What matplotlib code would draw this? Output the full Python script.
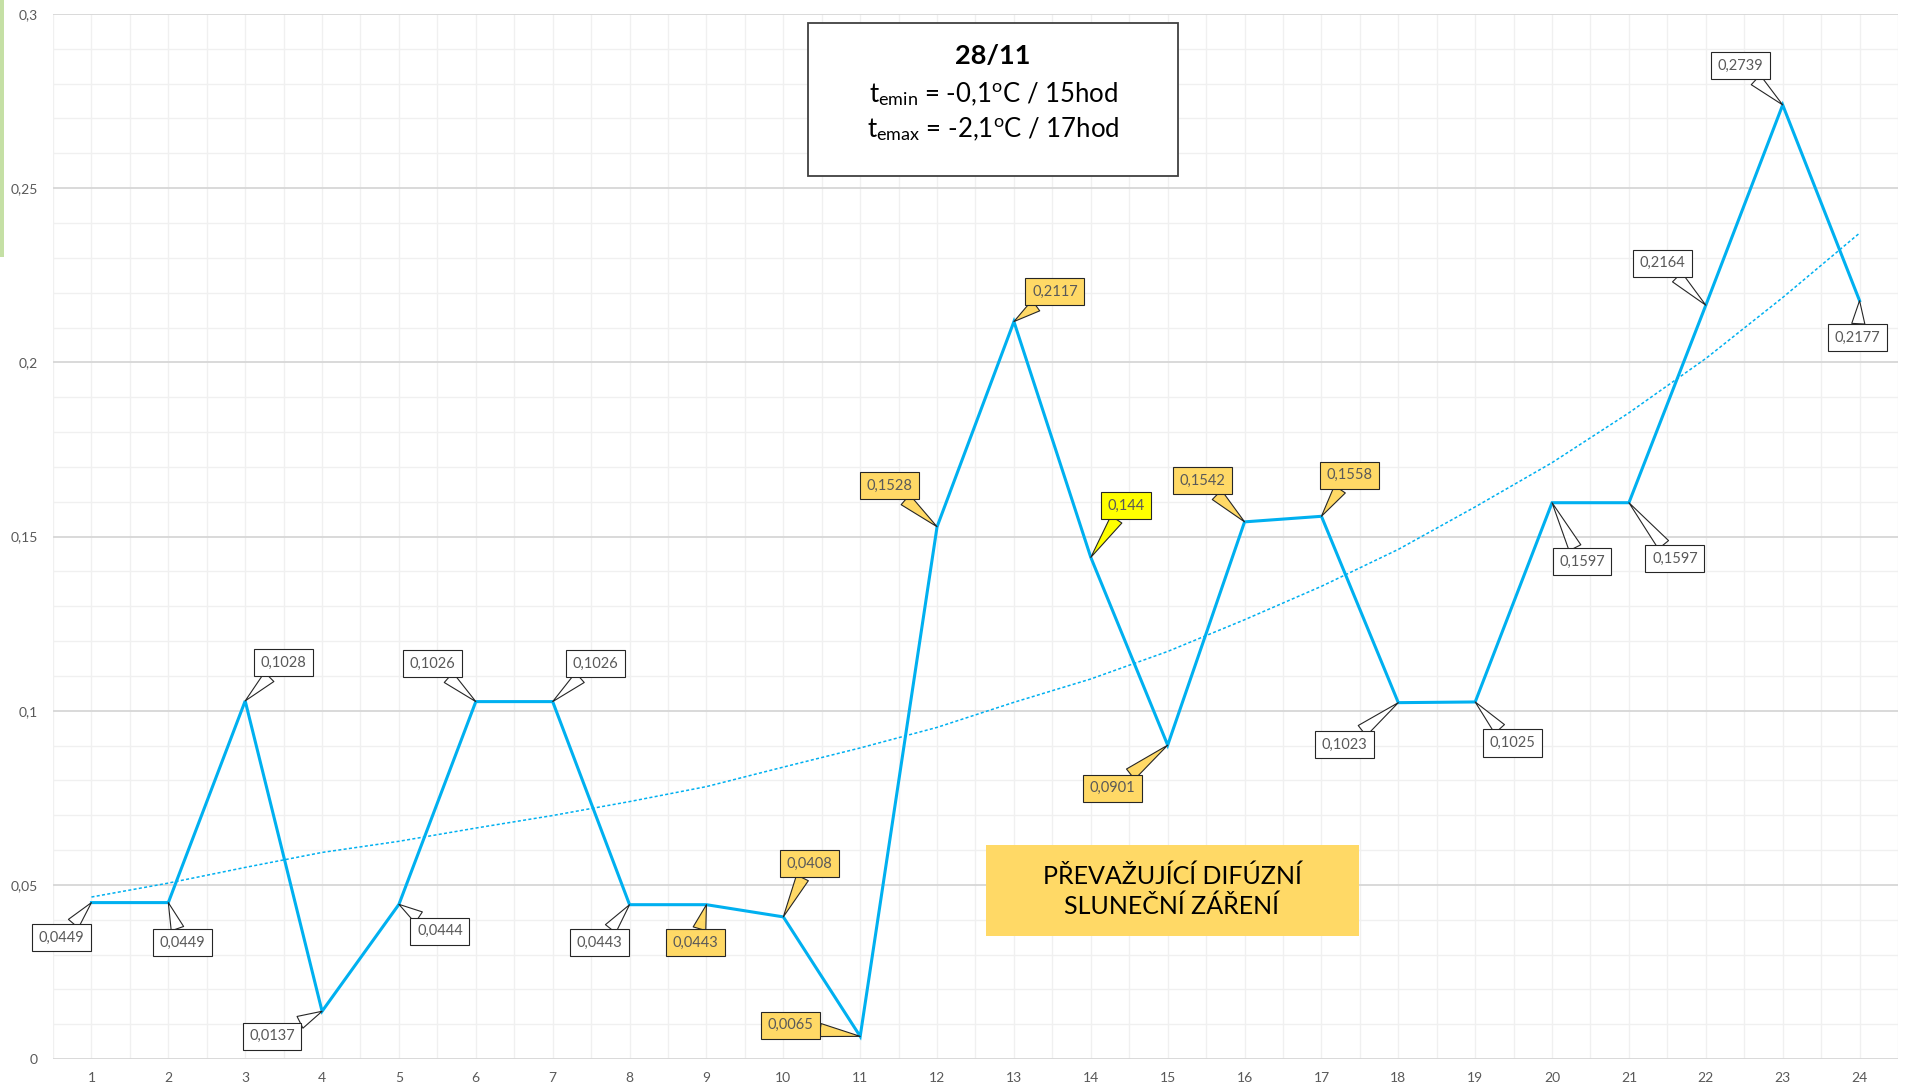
import numpy as np
import matplotlib.pyplot as plt
from matplotlib.patches import Rectangle

plt.rcParams['font.family'] = ['Lato', 'DejaVu Sans']
plt.rcParams['mathtext.fontset'] = 'custom'
plt.rcParams['mathtext.rm'] = 'Lato'
plt.rcParams['mathtext.it'] = 'Lato:italic'

##########################################################################
# data (hours 1..24)
hours = np.arange(1, 25)
values = [0.0449, 0.0449, 0.1028, 0.0137, 0.0444, 0.1026, 0.1026, 0.0443,
          0.0443, 0.0408, 0.0065, 0.1528, 0.2117, 0.144, 0.0901, 0.1542,
          0.1558, 0.1023, 0.1025, 0.1597, 0.1597, 0.2164, 0.2739, 0.2177]
# dotted trend line, read at each hour
trend = [0.0465, 0.0505, 0.0550, 0.0593, 0.0625, 0.0663, 0.0699, 0.0739,
         0.0782, 0.0838, 0.0893, 0.0952, 0.1024, 0.1091, 0.1170, 0.1261,
         0.1357, 0.1463, 0.1585, 0.1712, 0.1855, 0.2011, 0.2186, 0.2371]
ytick_vals = [0, 0.05, 0.1, 0.15, 0.2, 0.25, 0.3]
ytick_labels = ['0', '0,05', '0,1', '0,15', '0,2', '0,25', '0,3']

# callout colour per hour: w = white, g = gold, y = yellow
callout_kind = ['w', 'w', 'w', 'w', 'w', 'w', 'w', 'w', 'g', 'g', 'g', 'g',
                'g', 'y', 'g', 'g', 'g', 'w', 'w', 'w', 'w', 'w', 'w', 'w']
kind_colors = {'w': '#FFFFFF', 'g': '#FFD966', 'y': '#FFFF00'}
# callout box offsets from the point, in pixels (x right, y down)
callout_off = [(-30, 35), (14, 40), (38, -38), (-50, 25), (41, 27), (-43, -38),
               (43, -38), (-30, 38), (-11, 38), (26, -53), (-70, -11), (-48, -41),
               (41, -30), (35, -52), (-55, 43), (-42, -41), (28, -41), (-54, 42),
               (37, 41), (30, 59), (46, 56), (-43, -42), (-42, -39), (-2, 37)]

title = '28/11'
line_min = r't$_{\rm emin}$ = -0,1$^{\rm o}$C / 15hod'
line_max = r't$_{\rm emax}$ = -2,1$^{\rm o}$C / 17hod'
note = 'PŘEVAŽUJÍCÍ DIFÚZNÍ\nSLUNEČNÍ ZÁŘENÍ'

##########################################################################
W, H = 1907, 1089
fig = plt.figure(figsize=(W / 100, H / 100), dpi=100)
fx = lambda px: px / W
fy = lambda py: 1 - py / H

ax = fig.add_axes([fx(53), fy(1059), (1898 - 53) / W, (1059 - 14) / H])
ax.set_xlim(0.5, 24.5)
ax.set_ylim(0, 0.3)

ax.set_xticks(hours)
ax.set_xticks(np.arange(0.5, 25, 1.0), minor=True)
ax.set_yticks(ytick_vals)
ax.set_yticklabels(ytick_labels)
ax.set_yticks(np.arange(0, 0.301, 0.01), minor=True)
ax.tick_params(which='both', length=0)
ax.tick_params(axis='y', pad=11, labelsize=10, labelcolor='#595959')
ax.tick_params(axis='x', pad=9, labelsize=10, labelcolor='#595959')
for s in ax.spines.values():
    s.set_visible(False)

ax.grid(axis='x', which='both', color='#F0F0F0', lw=1.0, zorder=0)
ax.grid(axis='y', which='minor', color='#F0F0F0', lw=1.0, zorder=0)
ax.grid(axis='y', which='major', color='#D9D9D9', lw=1.4, zorder=0)
ax.set_axisbelow(True)

ax.plot(hours, trend, color='#00B0F0', lw=1.1, ls=(0, (2, 1.5)), zorder=2)
ax.plot(hours, values, color='#00B0F0', lw=2.2, zorder=3,
        solid_joinstyle='miter')

# data callouts
for h, v, k, (dx, dy) in zip(hours, values, callout_kind, callout_off):
    fc = kind_colors[k]
    ax.annotate(str(v).replace('.', ','), xy=(h, v), xytext=(dx, -dy),
                textcoords='offset pixels', ha='center', va='center',
                fontsize=10.5, color='#595959', zorder=5,
                bbox=dict(boxstyle='square,pad=0.45', fc=fc, ec='#262626', lw=0.8),
                arrowprops=dict(arrowstyle='wedge,tail_width=0.9', fc=fc,
                                ec='#262626', lw=0.8, shrinkA=0, shrinkB=0))

# title box
fig.patches.append(Rectangle((fx(808), fy(176)), (1178 - 808) / W, (176 - 23) / H,
                             transform=fig.transFigure, fc='white',
                             ec='#404040', lw=1.3, zorder=4))
fig.text(fx(993), fy(56), title, ha='center', va='center', fontsize=19.5,
         fontweight='bold', color='black', zorder=5)
fig.text(fx(993), fy(94), line_min, ha='center', va='center', fontsize=18.5,
         color='black', zorder=5)
fig.text(fx(993), fy(129), line_max, ha='center', va='center', fontsize=18.5,
         color='black', zorder=5)

# yellow note
fig.patches.append(Rectangle((fx(986), fy(936)), (1359 - 986) / W, (936 - 845) / H,
                             transform=fig.transFigure, fc='#FFD966',
                             ec='none', zorder=4))
fig.text(fx(1172), fy(891), note, ha='center', va='center', fontsize=18,
         color='black', linespacing=1.35, zorder=5)

# green strip at left edge
fig.patches.append(Rectangle((0, fy(257)), 4 / W, 257 / H,
                             transform=fig.transFigure, fc='#C5E0A5', ec='none'))

plt.savefig('out.png', dpi=100)
